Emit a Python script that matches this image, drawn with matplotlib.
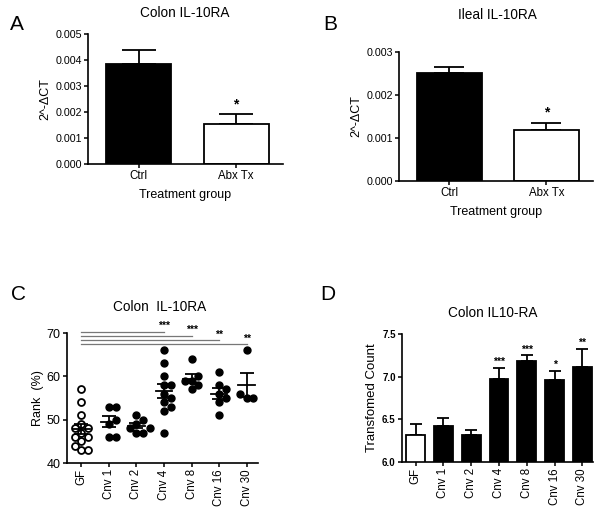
import numpy as np
import matplotlib
matplotlib.use('Agg')
import matplotlib.pyplot as plt

plt.rcParams['font.family'] = ['Liberation Sans', 'DejaVu Sans']

W, H = 604, 516

# panels A and B : qPCR
ab_groups = ['Ctrl', 'Abx Tx']
colon_mean = [0.00385, 0.00155]
colon_err = [0.00055, 0.00036]
ileal_mean = [0.00252, 0.00118]
ileal_err = [0.00013, 0.00018]

# panel C : rank (%) per mouse
cnv_groups = ['GF', 'Cnv 1', 'Cnv 2', 'Cnv 4', 'Cnv 8', 'Cnv 16', 'Cnv 30']
rank_gf = [57, 54, 51, 49, 48, 48, 47, 46, 46, 45, 44, 43, 43]
rank_cnv1 = [53, 53, 50, 49, 46, 46]
rank_cnv2 = [51, 50, 49, 48, 48, 47, 47]
rank_cnv4 = [66, 63, 60, 58, 58, 56, 55, 54, 53, 52, 47]
rank_cnv8 = [64, 60, 59, 59, 58, 57]
rank_cnv16 = [61, 58, 57, 56, 55, 54, 51]
rank_cnv30 = [66, 56, 55, 55]
rank_sig_to = [3, 4, 5, 6]
rank_sig_y = [70.2, 69.3, 68.3, 67.4]
rank_sig_stars = ['***', '***', '**', '**']

# panel D : transformed count
count_mean = [6.32, 6.42, 6.32, 6.97, 7.18, 6.96, 7.11]
count_err = [0.12, 0.10, 0.05, 0.13, 0.07, 0.11, 0.22]
count_stars = ['', '', '', '***', '***', '*', '**']


def box(l, t, r, b):
    # pixel box -> figure fraction
    return [l / W, 1 - b / H, (r - l) / W, (b - t) / H]


def label(x, y, s, **kw):
    fig.text(x / W, 1 - y / H, s, ha='center', va='center', **kw)


def style(ax):
    for side in ['top', 'right']:
        ax.spines[side].set_visible(False)
    for side in ['left', 'bottom']:
        ax.spines[side].set_linewidth(1.2)
    ax.tick_params(width=1.1, length=3, pad=1.5)


fig = plt.figure(figsize=(W / 100, H / 100), dpi=100)


def bar_panel(rect, means, errs, ymax, cap, title_xy, title, letter_xy, letter):
    ax = fig.add_axes(box(*rect))
    style(ax)
    x = np.arange(len(means))
    ax.bar(x, means, width=0.67, color=['black', 'white'], edgecolor='black', linewidth=1.3, zorder=2)
    ax.errorbar(x, means, yerr=[np.zeros(len(errs)), errs], fmt='none', ecolor='black',
                elinewidth=1.3, capsize=cap, capthick=1.3, zorder=1)
    ax.text(1, means[1] + errs[1] + ymax * 0.025, '*', ha='center', va='bottom', fontsize=10, fontweight='bold')
    ax.set_xlim(-0.52, 1.48)
    ax.set_ylim(0, ymax)
    ax.set_yticks(np.arange(0, ymax + 1e-9, 0.001))
    ax.set_yticklabels(['%.3f' % v for v in np.arange(0, ymax + 1e-9, 0.001)], fontsize=7.7)
    ax.set_xticks(x)
    ax.set_xticklabels(ab_groups, fontsize=8.3)
    ax.set_ylabel('2^-ΔCT', fontsize=9, labelpad=3)
    ax.set_xlabel('Treatment group', fontsize=9, labelpad=5)
    label(*title_xy, title, fontsize=9.8)
    label(*letter_xy, letter, fontsize=15)
    return ax


axA = bar_panel((88, 34, 283, 164), colon_mean, colon_err, 0.005, 12,
                (185, 13), 'Colon IL-10RA', (17, 24), 'A')
axB = bar_panel((399, 52, 593, 181), ileal_mean, ileal_err, 0.003, 11,
                (497, 15), 'Ileal IL-10RA', (330, 25), 'B')

# panel C
axC = fig.add_axes(box(67, 333, 258, 463))
style(axC)
rank_all = [rank_gf, rank_cnv1, rank_cnv2, rank_cnv4, rank_cnv8, rank_cnv16, rank_cnv30]
xu, yu, dmark = 27.6, 4.33, 6.3  # px per x unit, px per y unit, marker diameter px
for i, vals in enumerate(rank_all):
    # simple beeswarm placement
    placed = []
    for v in sorted(vals):
        for k in range(0, 12):
            off = ((k + 1) // 2) * 0.12 * (1 if k % 2 else -1)
            ok = all(np.hypot((off - po) * xu, (v - pv) * yu) >= dmark for po, pv in placed)
            if ok:
                placed.append((off, v))
                break
    xs = [i + p[0] for p in placed]
    ys = [p[1] for p in placed]
    if i == 0:
        axC.plot(xs, ys, 'o', ms=5, mfc='white', mec='black', mew=1.3, zorder=2)
    else:
        axC.plot(xs, ys, 'o', ms=5, mfc='black', mec='black', zorder=2)
    m = np.mean(vals)
    se = np.std(vals, ddof=1) / np.sqrt(len(vals))
    axC.plot([i - 0.3, i + 0.3], [m, m], color='black', lw=1.3, zorder=3)
    axC.errorbar([i], [m], yerr=[[se], [se]], fmt='none', ecolor='black', elinewidth=1.3,
                 capsize=5, capthick=1.3, zorder=3)
for to, yv, st in zip(rank_sig_to, rank_sig_y, rank_sig_stars):
    axC.plot([0, to], [yv, yv], color='#777777', lw=0.9, clip_on=False)
    axC.text(to, yv + 0.2, st, ha='center', va='bottom', fontsize=7.5, fontweight='bold')
axC.set_xlim(-0.52, 6.41)
axC.set_ylim(40, 70)
axC.set_yticks([40, 50, 60, 70])
axC.tick_params(axis='y', labelsize=9)
axC.set_xticks(range(len(cnv_groups)))
axC.set_xticklabels(cnv_groups, rotation=90, fontsize=8.3)
axC.set_ylabel('Rank  (%)', fontsize=9, labelpad=2)
label(160, 307, 'Colon  IL-10RA', fontsize=9.8)
label(18, 295, 'C', fontsize=15)

# panel D
axD = fig.add_axes(box(402, 334, 593, 462))
style(axD)
x = np.arange(len(count_mean))
colors = ['white'] + ['black'] * (len(count_mean) - 1)
axD.bar(x, count_mean, width=0.68, color=colors, edgecolor='black', linewidth=1.3, zorder=2)
axD.errorbar(x, count_mean, yerr=[np.zeros(len(count_err)), count_err], fmt='none', ecolor='black',
             elinewidth=1.3, capsize=4.5, capthick=1.3, zorder=1)
for i, st in enumerate(count_stars):
    if st:
        axD.text(i, count_mean[i] + count_err[i] + 0.01, st, ha='center', va='bottom',
                 fontsize=7.5, fontweight='bold')
axD.set_xlim(-0.49, 6.38)
axD.set_ylim(6.0, 7.5)
axD.set_yticks([6.0, 6.5, 7.0, 7.5])
axD.set_yticklabels(['6.0', '6.5', '7.0', '7.5'], fontsize=7, fontweight='bold')
axD.set_xticks(x)
axD.set_xticklabels(cnv_groups, rotation=90, fontsize=8.3)
axD.set_ylabel('Transfomed Count', fontsize=9.5, labelpad=3)
label(493, 313, 'Colon IL10-RA', fontsize=9.8)
label(328, 295, 'D', fontsize=15)

fig.savefig('out.png', dpi=100)
